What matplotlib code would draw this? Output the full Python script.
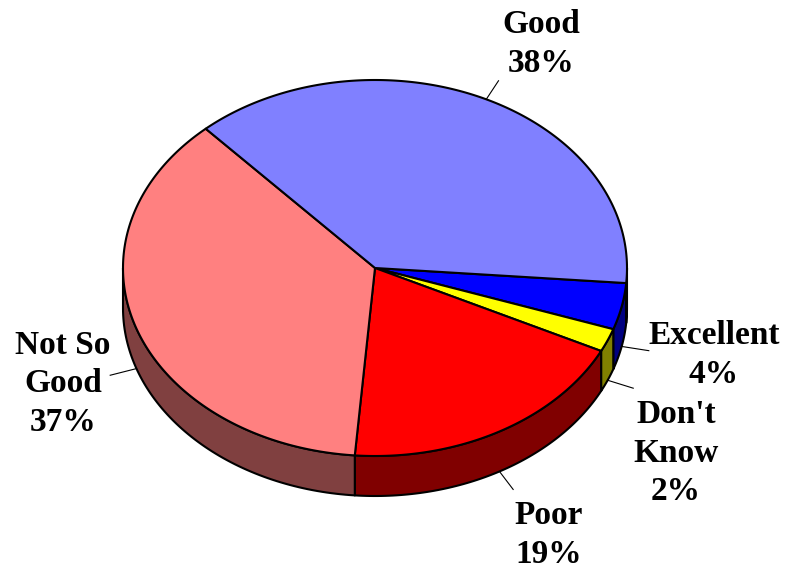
import numpy as np
import matplotlib.pyplot as plt
from matplotlib.patches import Polygon


# slice data, clockwise from the right-hand edge
labels = ["Excellent", "Don't\nKnow", "Poor", "Not So\nGood", "Good"]
shares = [4, 2, 19, 37, 38]
top_colors = ["#0000FF", "#FFFF00", "#FF0000", "#FF8080", "#8080FF"]
side_colors = ["#000080", "#808000", "#800000", "#804040", "#404080"]

# label text centres (pixels) for each slice
label_pos = [(714, 355), (676, 453), (549, 535), (63, 384), (541, 44)]

# pie geometry in pixel units
cx, cy = 375, 268
rx, ry = 252, 188
depth = 40
start = -4.6


def rim(theta, drop=0.0, scale=1.0):
    t = np.radians(theta)
    return np.column_stack([cx + scale * rx * np.cos(t),
                            cy - scale * ry * np.sin(t) + drop])


fig = plt.figure(figsize=(7.86, 5.7), dpi=100)
ax = fig.add_axes([0, 0, 1, 1])
ax.set_xlim(0, 786)
ax.set_ylim(570, 0)
ax.axis("off")

fracs = np.array(shares, dtype=float) / sum(shares)
edges = start - 360 * np.concatenate([[0], np.cumsum(fracs)])

# outer walls first (only the front half is visible)
for i in range(len(shares)):
    a1, a2 = edges[i], edges[i + 1]
    for k in range(-2, 2):
        lo = max(a2, -180 + 360 * k)
        hi = min(a1, 360 * k)
        if hi <= lo:
            continue
        th = np.linspace(hi, lo, 80)
        pts = np.vstack([rim(th), rim(th[::-1], drop=depth)])
        ax.add_patch(Polygon(pts, closed=True, facecolor=side_colors[i],
                             edgecolor="black", linewidth=1.5,
                             joinstyle="round", zorder=1))

# top faces
for i in range(len(shares)):
    th = np.linspace(edges[i], edges[i + 1], 200)
    pts = np.vstack([[cx, cy], rim(th)])
    ax.add_patch(Polygon(pts, closed=True, facecolor=top_colors[i],
                         edgecolor="black", linewidth=1.5,
                         joinstyle="round", zorder=2))

# leader lines and labels
for i in range(len(shares)):
    mid = (edges[i] + edges[i + 1]) / 2
    drop = depth if np.sin(np.radians(mid)) < 0 else 0
    p0 = rim(mid, drop=drop)[0]
    p1 = rim(mid, drop=drop, scale=1.11)[0]
    ax.plot([p0[0], p1[0]], [p0[1], p1[1]], color="black",
            linewidth=0.8, zorder=3)
    x, y = label_pos[i]
    ax.text(x, y, f"{labels[i]}\n{shares[i]}%", ha="center", va="center",
            multialignment="center", fontsize=24, fontweight="bold",
            family="Liberation Serif", linespacing=1.32)

fig.savefig("out.png", dpi=100)
